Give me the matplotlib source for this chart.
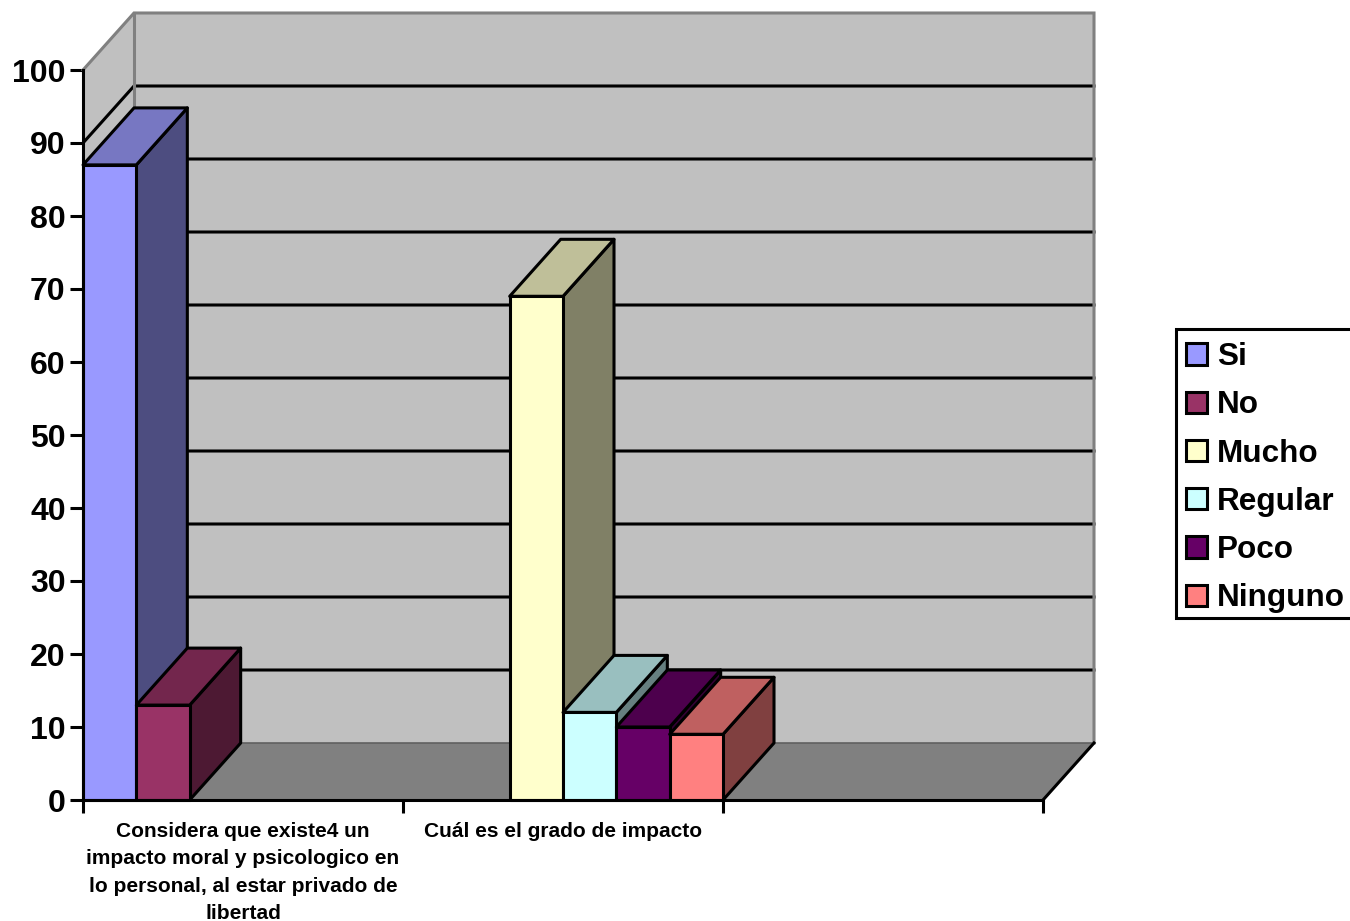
import matplotlib
matplotlib.use('Agg')
import matplotlib.pyplot as plt
from matplotlib.patches import Polygon, Patch, Rectangle

plt.rcParams['font.family'] = ['Liberation Sans', 'DejaVu Sans']
plt.rcParams['font.weight'] = 'bold'

# data
series = ['Si', 'No', 'Mucho', 'Regular', 'Poco', 'Ninguno']
values = [87, 13, 69, 12, 10, 9]
slots = [0, 1, 8, 9, 10, 11]  # bar slot, six per category
front = ['#9999FF', '#993366', '#FFFFCC', '#CCFFFF', '#660066', '#FF8080']
top = ['#7777C2', '#73264D', '#BFBF99', '#99BFBF', '#4D004D', '#BF6060']
side = ['#4D4D80', '#4D1933', '#808066', '#668080', '#330033', '#804040']
categories = ['Considera que existe4 un\nimpacto moral y psicologico en\nlo personal, al estar privado de\nlibertad',
              'Cuál es el grado de impacto']
y_ticks = list(range(0, 101, 10))
n_cat = 3

# depth of the 3d box in data units
dx = 51 / 320
dy = 57 / 7.3
bar_w = 1 / 6
lw = 2.2

fig = plt.figure(figsize=(13.5, 9.21), dpi=100)
ax = fig.add_axes([83 / 1350, 121 / 921, 960 / 1350, 730 / 921])
ax.set_xlim(0, n_cat)
ax.set_ylim(0, 100)
ax.patch.set_visible(False)


def face(pts, color, edge='none', width=0, z=1):
    ax.add_patch(Polygon(pts, closed=True, facecolor=color, edgecolor=edge, linewidth=width,
                         joinstyle='round', clip_on=False, zorder=z))


# walls and floor
face([(0, 0), (dx, dy), (dx, 100 + dy), (0, 100)], '#C0C0C0')
face([(dx, dy), (n_cat + dx, dy), (n_cat + dx, 100 + dy), (dx, 100 + dy)], '#C0C0C0')
face([(0, 0), (n_cat, 0), (n_cat + dx, dy), (dx, dy)], '#808080')

for v in y_ticks[1:-1]:
    ax.plot([0, dx, n_cat + dx], [v, v + dy, v + dy], color='black', lw=lw, clip_on=False, zorder=2,
            solid_joinstyle='miter')
ax.plot([dx, n_cat + dx], [dy, dy], color='#606060', lw=1.2, clip_on=False, zorder=2)
ax.plot([0, dx, n_cat + dx, n_cat + dx], [100, 100 + dy, 100 + dy, dy], color='#808080', lw=lw,
        clip_on=False, zorder=2, solid_joinstyle='miter')
ax.plot([dx, dx], [dy, 100 + dy], color='#808080', lw=lw, clip_on=False, zorder=2)
ax.plot([n_cat, n_cat + dx], [0, dy], color='black', lw=lw, clip_on=False, zorder=2)

# bars, left to right so each one covers the side of the previous
for i in range(len(values)):
    x0 = slots[i] * bar_w
    x1 = x0 + bar_w
    v = values[i]
    z = 3 + i
    face([(x1, 0), (x1 + dx, dy), (x1 + dx, v + dy), (x1, v)], side[i], 'black', lw, z)
    face([(x0, v), (x1, v), (x1 + dx, v + dy), (x0 + dx, v + dy)], top[i], 'black', lw, z)
    face([(x0, 0), (x1, 0), (x1, v), (x0, v)], front[i], 'black', lw, z)

# axes
ax.spines['top'].set_visible(False)
ax.spines['right'].set_visible(False)
for s in ['left', 'bottom']:
    ax.spines[s].set_linewidth(lw)
    ax.spines[s].set_zorder(20)
ax.set_yticks(y_ticks)
ax.set_xticks(range(n_cat + 1))
ax.set_xticklabels([])
ax.tick_params(axis='y', length=9.5, width=lw, labelsize=23, pad=3)
ax.tick_params(axis='x', which='major', length=9.5, width=lw)
ax.set_xticks([0.5, 1.5], labels=categories, minor=True)
ax.tick_params(axis='x', which='minor', length=0, labelsize=15, pad=15.5)
for t in ax.get_xticklabels(minor=True):
    t.set_linespacing(1.57)
    t.set_verticalalignment('top')

# legend, the frame is separate because it is tighter than the legend's own
fig.add_artist(Rectangle((1176 / 1350, 1 - 618 / 921), 180 / 1350, 289 / 921, transform=fig.transFigure,
                         facecolor='white', edgecolor='black', linewidth=lw))
handles = [Patch(facecolor=front[i], edgecolor='black', linewidth=lw) for i in range(len(series))]
leg = fig.legend(handles, series, loc='upper left', bbox_to_anchor=(1174.5 / 1350, 1 - 330 / 921),
                 bbox_transform=fig.transFigure, fontsize=22.7, frameon=False,
                 handlelength=0.66, handleheight=0.66,
                 handletextpad=0.3, labelspacing=0.58, borderpad=0.38, borderaxespad=0)

fig.savefig('out.png', dpi=100)
